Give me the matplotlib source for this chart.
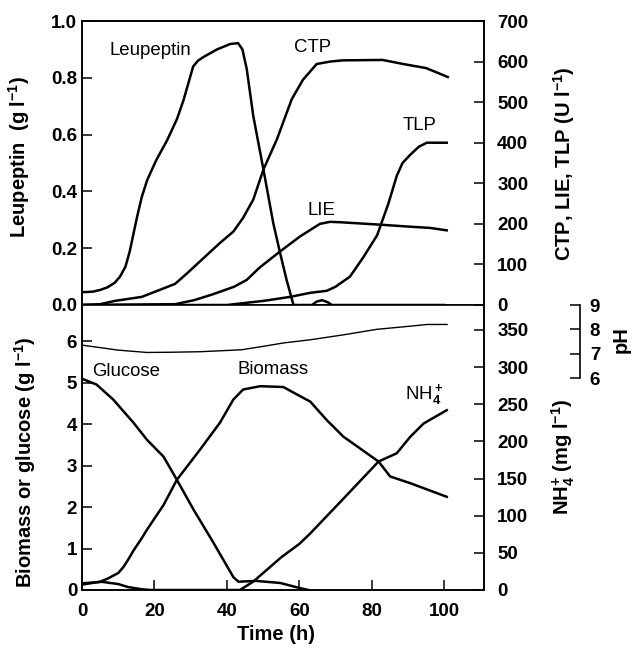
#%% -- imports --
import numpy as np
import matplotlib.pyplot as plt

plt.rcParams['font.family'] = ['Liberation Sans', 'DejaVu Sans']
plt.rcParams['font.weight'] = 'bold'
plt.rcParams['mathtext.fontset'] = 'custom'
plt.rcParams['mathtext.rm'] = 'Liberation Sans'
plt.rcParams['mathtext.bf'] = 'Liberation Sans:bold'
plt.rcParams['mathtext.it'] = 'Liberation Sans:italic'


#%% -- data --
# top panel: leupeptin (g/l), left axis
t_leu = [0, 3, 5, 7, 9, 10.5, 12, 13.2, 14.2, 15.2, 16.5, 18, 20.5, 23.5, 26.2, 28, 30.7,
         32, 33.5, 37.3, 40.9, 43.1, 44.3, 45.5, 47.3, 50.1, 52.8, 54.7, 56.5, 58.4,
         63.5, 64.8, 66.3, 67.8, 69, 100]
leu = [0.045, 0.047, 0.053, 0.062, 0.078, 0.1, 0.135, 0.19, 0.25, 0.31, 0.38, 0.44, 0.51,
       0.58, 0.654, 0.72, 0.84, 0.86, 0.873, 0.90, 0.919, 0.922, 0.90, 0.83, 0.665, 0.477,
       0.289, 0.183, 0.088, 0.0, 0.0, 0.012, 0.017, 0.01, 0.0, 0.0]

# top panel: enzymes (U/l), right axis
t_ctp = [0, 5, 9, 16.5, 25.7, 29, 33, 38.1, 41.8, 44.5, 47.3, 50.1, 53.8, 57.9, 61,
         64.8, 68.5, 72, 83, 88.7, 95, 101]
ctp = [0, 2, 10, 20, 52, 78, 111, 153, 181, 215, 260, 334, 408, 507, 555,
       594, 600, 603, 604, 594, 584, 562]

t_lie = [0, 25.7, 31, 36, 42, 45.5, 49, 54.7, 60.2, 65.7, 68.5, 71.3, 82.3, 90.6, 96.1, 100.7]
lie = [0, 2, 12, 26, 45, 62, 92, 132, 169, 200, 205, 204, 198, 193, 190, 184]

t_tlp = [0, 40, 50, 57.5, 63, 67.6, 70, 74, 77.7, 81.5, 84.6, 86.9, 88.5, 90.6,
         93, 95.2, 100.7]
tlp = [0, 0, 10, 20, 30, 35, 45, 70, 118, 172, 250, 318, 350, 370, 390, 400, 400]

# bottom panel: biomass and glucose (g/l), left axis
t_glc = [0, 4, 8.6, 14.2, 17.9, 22.5, 26.2, 30.8, 36.3, 41.8, 43.2, 48, 54.7, 60, 62.5]
glc = [5.1, 4.96, 4.6, 4.04, 3.63, 3.22, 2.66, 1.94, 1.14, 0.31, 0.2, 0.22, 0.17, 0.05, 0.0]

t_bio = [0, 5, 7.2, 10, 11.4, 12.8, 14.2, 16.5, 17.9, 22.5, 26.2, 32.6, 38.1, 41.8, 44.5,
         49.2, 55.6, 60.2, 63, 67.6, 72.2, 81.9, 85.1, 90.6, 100.7]
bio = [0.13, 0.2, 0.28, 0.41, 0.55, 0.74, 0.95, 1.25, 1.45, 2.05, 2.66, 3.39, 4.04, 4.6,
       4.84, 4.92, 4.9, 4.68, 4.55, 4.1, 3.7, 3.1, 2.74, 2.58, 2.25]

# bottom panel: NH4+ (mg/l), right axis
t_nh4 = [0, 5.5, 10, 12.7, 16.5, 19, 43.6, 47.2, 51, 55, 60, 63, 72.2, 81.9, 86.9,
         90.6, 94.3, 100.7]
nh4 = [9, 11, 8, 4, 1, 0, 0, 11, 27, 44, 62, 76, 123, 173, 184, 206, 224, 242]

# bottom panel: pH, own offset axis
t_ph = [0, 5, 9.7, 17.9, 25, 32.6, 44, 50, 55.6, 63, 72, 81.4, 90.6, 95.3, 100.8]
ph = [7.35, 7.25, 7.15, 7.05, 7.06, 7.08, 7.16, 7.3, 7.44, 7.57, 7.77, 8.0, 8.13, 8.2, 8.2]


#%% -- figure --
fig = plt.figure(figsize=(6.31, 6.51), dpi=100)
W, H = 631, 651
ax1 = fig.add_axes([82 / W, 1 - 305 / H, 402 / W, 284 / H])
ax2 = fig.add_axes([82 / W, 1 - 590 / H, 402 / W, 285 / H])
ax1r = ax1.twinx()
ax2r = ax2.twinx()
ax2p = ax2.twinx()

lw = 1.8
fs_tick = 13.5
fs_lab = 14.5
fs_txt = 13.4

# top panel
ax1.plot(t_leu, leu, color='black', lw=lw)
ax1r.plot(t_ctp, ctp, color='black', lw=lw)
ax1r.plot(t_lie, lie, color='black', lw=lw)
ax1r.plot(t_tlp, tlp, color='black', lw=lw)
ax1.set_xlim(0, 111)
ax1.set_ylim(0, 1.0)
ax1r.set_ylim(0, 700)
ax1.set_yticks(np.arange(0, 1.01, 0.2))
ax1.set_yticklabels([f'{v:.1f}' for v in np.arange(0, 1.01, 0.2)])
ax1r.set_yticks(range(0, 701, 100))
ax1.tick_params(axis='x', bottom=False, labelbottom=False)

# bottom panel
ax2.plot(t_glc, glc, color='black', lw=lw)
ax2.plot(t_bio, bio, color='black', lw=lw)
ax2r.plot(t_nh4, nh4, color='black', lw=lw)
ax2p.plot(t_ph, ph, color='black', lw=1.0)
ax2.set_xlim(0, 111)
ax2.set_ylim(0, 6.88)
ax2r.set_ylim(0, 383.6)
ax2p.set_ylim(-2.71, 9)
ax2.set_xticks(range(0, 101, 20))
ax2.set_yticks(range(0, 7))
ax2r.set_yticks(range(0, 351, 50))
ax2p.set_yticks([6, 7, 8, 9])

# spines and ticks
for ax in (ax1, ax2, ax1r, ax2r, ax2p):
    for s in ax.spines.values():
        s.set_linewidth(1.2)
for ax in (ax2, ax2r):
    ax.spines['top'].set_visible(False)
for s in ('top', 'left', 'bottom'):
    ax2p.spines[s].set_visible(False)
ax2p.spines['right'].set_position(('axes', 1.239))
ax2p.spines['right'].set_bounds(6, 9)

ax1.tick_params(axis='y', direction='in', length=7, width=1.1, labelsize=fs_tick, pad=3.5)
ax2.tick_params(axis='y', direction='in', length=7, width=1.1, labelsize=fs_tick, pad=3.5)
ax2.tick_params(axis='x', direction='in', length=7, width=1.1, labelsize=fs_tick, pad=9)
ax1r.tick_params(axis='y', direction='in', length=7, width=1.1, labelsize=fs_tick, pad=9.5)
ax2r.tick_params(axis='y', direction='in', length=7, width=1.1, labelsize=fs_tick, pad=9.5)
ax2p.tick_params(axis='y', direction='in', length=7, width=1.1, labelsize=fs_tick, pad=7)

# axis labels
ax1.set_ylabel(r'Leupeptin  (g l$^{\mathbf{-1}}$)', fontsize=fs_lab, fontweight='bold')
ax1.yaxis.set_label_coords(-0.125, 0.52)
ax1r.set_ylabel(r'CTP, LIE, TLP (U l$^{\mathbf{-1}}$)', fontsize=fs_lab, fontweight='bold')
ax1r.yaxis.set_label_coords(1.168, 0.496)
ax2.set_ylabel(r'Biomass or glucose (g l$^{\mathbf{-1}}$)', fontsize=fs_lab, fontweight='bold')
ax2.yaxis.set_label_coords(-0.11, 0.449)
ax2r.set_ylabel(r'NH$_{\mathbf{4}}^{\mathbf{+}}$ (mg l$^{\mathbf{-1}}$)', fontsize=fs_lab, fontweight='bold')
ax2r.yaxis.set_label_coords(1.164, 0.467)
ax2p.set_ylabel('pH', fontsize=fs_lab, fontweight='bold')
ax2p.yaxis.set_label_coords(1.318, 0.877)
ax2.set_xlabel('Time (h)', fontsize=fs_lab, fontweight='bold')
ax2.xaxis.set_label_coords(0.483, -0.123)

# curve names
ax1.text(7.7, 0.896, 'Leupeptin', fontsize=fs_txt, fontweight='normal', va='center')
ax1.text(58.5, 0.905, 'CTP', fontsize=fs_txt, fontweight='normal', va='center')
ax1.text(62.2, 0.332, 'LIE', fontsize=fs_txt, fontweight='normal', va='center')
ax1.text(88.4, 0.633, 'TLP', fontsize=fs_txt, fontweight='normal', va='center')
ax2.text(2.7, 5.27, 'Glucose', fontsize=fs_txt, fontweight='normal', va='center')
ax2.text(43, 5.33, 'Biomass', fontsize=fs_txt, fontweight='normal', va='center')
ax2.text(89.2, 4.73, r'NH$_4^+$', fontsize=fs_txt, fontweight='normal', va='center')

plt.savefig('out.png', dpi=100)
